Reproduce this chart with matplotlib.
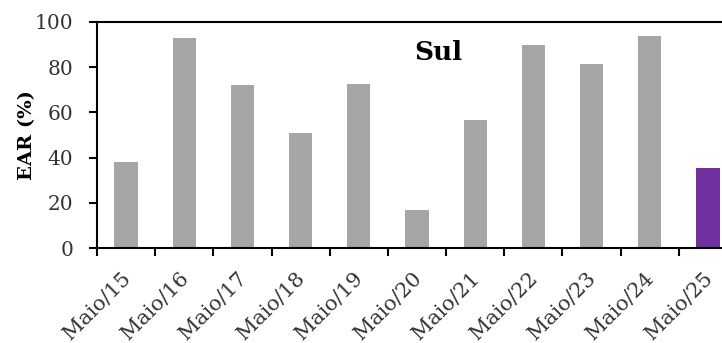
import numpy as np
import matplotlib.pyplot as plt
from matplotlib.transforms import ScaledTranslation

categories = ['Maio/15', 'Maio/16', 'Maio/17', 'Maio/18', 'Maio/19', 'Maio/20',
              'Maio/21', 'Maio/22', 'Maio/23', 'Maio/24', 'Maio/25']
ear = [38, 93, 72, 51, 72.5, 17, 56.5, 90, 81.5, 94, 35.5]
colors = ['#A6A6A6'] * 10 + ['#7030A0']

plt.rcParams['font.family'] = ['DejaVu Serif']

fig = plt.figure(figsize=(7.22, 3.43), dpi=100)
ax = fig.add_axes([97 / 722, 95 / 343, 640 / 722, 226 / 343])

x = np.arange(len(categories))
ax.bar(x, ear, width=0.4, color=colors, zorder=2)

ax.set_xlim(-0.5, len(categories) - 0.5)
ax.set_ylim(0, 100)
ax.set_yticks(range(0, 101, 20))
ax.tick_params(axis='y', labelsize=14.5, length=6, width=1.5, direction='out',
               labelcolor='#333333', pad=11)

ax.set_xticks(np.arange(len(categories) + 1) - 0.5)
ax.set_xticks(x, minor=True)
ax.set_xticklabels([])
ax.set_xticklabels(categories, minor=True, rotation=45, ha='right', va='center',
                   rotation_mode='anchor', fontsize=15, color='#333333')
ax.tick_params(axis='x', which='major', length=6, width=1.5, direction='out')
ax.tick_params(axis='x', which='minor', length=0, pad=20)
shift = ScaledTranslation(1 / 72, 0, fig.dpi_scale_trans)
for lab in ax.get_xticklabels(minor=True):
    lab.set_transform(lab.get_transform() + shift)

for s in ['left', 'bottom', 'top']:
    ax.spines[s].set_linewidth(1.5)
ax.spines['right'].set_visible(False)

ax.set_ylabel('EAR (%)', fontsize=14, fontweight='bold', labelpad=-1)
ax.text(5.36, 86.5, 'Sul', fontsize=19, fontweight='bold', ha='center', va='center')

fig.savefig('out.png', dpi=100)
